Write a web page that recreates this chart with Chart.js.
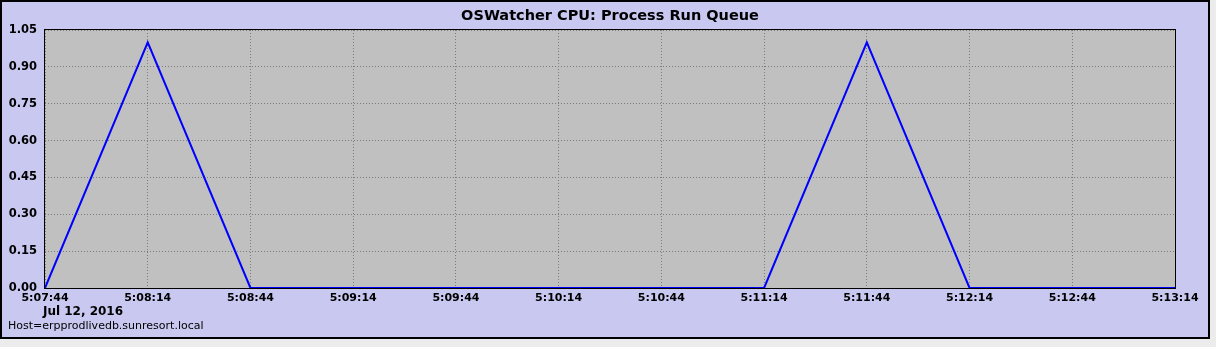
<!DOCTYPE html>
<html>
<head>
<meta charset="utf-8">
<script src="https://cdn.jsdelivr.net/npm/chart.js@4/dist/chart.umd.min.js"></script>
<style>
  html,body{margin:0;padding:0;background:#ececec;}
  #wrap{position:relative;width:1216px;height:347px;}
</style>
</head>
<body>
<div id="wrap"><canvas id="cpu" width="1216" height="347"></canvas></div>
<script>
const times = ['5:07:44','5:08:14','5:08:44','5:09:14','5:09:44','5:10:14','5:10:44','5:11:14','5:11:44','5:12:14','5:12:44','5:13:14'];
const runQueue = [0,1,0,0,0,0,0,0,1,0,0,0];
const yTicks = [0,0.15,0.30,0.45,0.60,0.75,0.90,1.05];

const FONT = "'DejaVu Sans', sans-serif";

// box, plot background, title and footer texts
const frame = {
  id:'frame',
  beforeDraw(c){
    const ctx=c.ctx, a=c.chartArea;
    ctx.save();
    ctx.fillStyle='#c8c8f0';
    ctx.fillRect(0,0,1210,339);
    ctx.strokeStyle='#000';ctx.lineWidth=2;
    ctx.strokeRect(1,1,1208,337);
    ctx.fillStyle='#c0c0c0';
    ctx.fillRect(a.left,a.top,a.right-a.left,a.bottom-a.top);
    ctx.restore();
  },
  afterDraw(c){
    const ctx=c.ctx, a=c.chartArea;
    ctx.save();
    ctx.strokeStyle='#000';ctx.lineWidth=1;
    ctx.strokeRect(a.left-0.5,a.top-0.5,a.right-a.left+1,a.bottom-a.top+1);
    ctx.fillStyle='#000';
    ctx.textBaseline='middle';
    ctx.font='bold 14.5px '+FONT;
    ctx.textAlign='center';
    ctx.fillText('OSWatcher CPU: Process Run Queue',610,16);
    ctx.font='bold 12px '+FONT;
    ctx.fillText('Jul 12, 2016',83,312);
    ctx.font='11px '+FONT;
    ctx.textAlign='left';
    ctx.fillText('Host=erpprodlivedb.sunresort.local',8,326);
    ctx.restore();
  }
};

new Chart(document.getElementById('cpu'),{
  type:'line',
  data:{labels:times,datasets:[{data:runQueue,borderColor:'#0000ff',borderWidth:2,pointRadius:0,tension:0,fill:false}]},
  options:{
    responsive:false,animation:false,
    layout:{padding:{left:0,top:30,right:41,bottom:0}},
    plugins:{legend:{display:false},tooltip:{enabled:false}},
    scales:{
      x:{
        type:'category',offset:false,
        afterFit:s=>{s.height=59;},
        grid:{color:'#7a7a7a',lineWidth:1,tickLength:0,drawTicks:false},
        border:{display:false,dash:[1,2]},
        ticks:{color:'#000',font:{family:FONT,size:11,weight:'bold'},maxRotation:0,autoSkip:false,padding:4}
      },
      y:{
        min:0,max:1.05,
        afterFit:s=>{s.width=45;},
        afterBuildTicks:s=>{s.ticks=yTicks.map(v=>({value:v}));},
        grid:{color:'#7a7a7a',lineWidth:1,drawTicks:false},
        border:{display:false,dash:[1,2]},
        ticks:{color:'#000',font:{family:FONT,size:11.5,weight:'bold'},padding:8,callback:v=>v.toFixed(2)}
      }
    }
  },
  plugins:[frame]
});
</script>
</body>
</html>
